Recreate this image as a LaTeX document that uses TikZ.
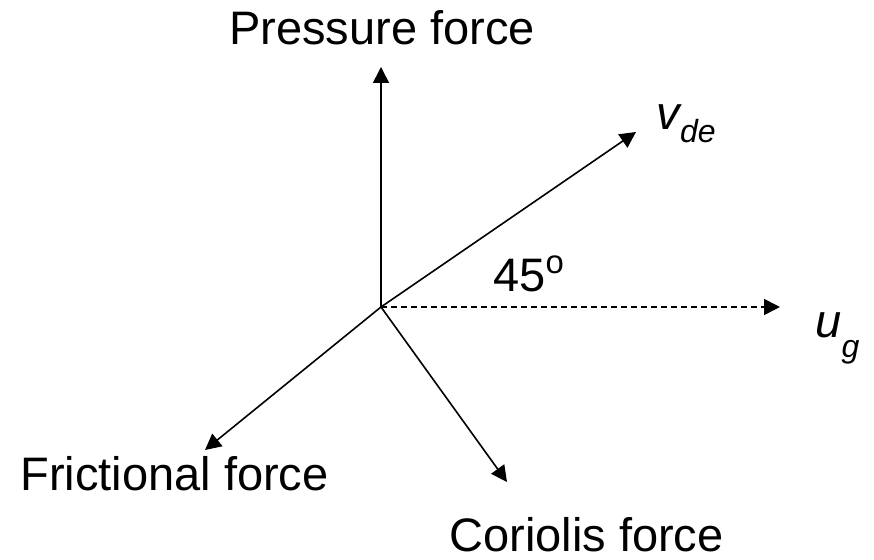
\documentclass[tikz,border=0pt]{standalone}
\usepackage{fontspec}
\setmainfont{Liberation Sans}
\usetikzlibrary{arrows.meta}
\begin{document}
\begin{tikzpicture}[x=0.5pt, y=-0.5pt,
    force/.style={-{Triangle[length=8pt, width=8pt]}, line width=0.8pt},
    lbl/.style={font=\fontsize{23.5}{28}\selectfont, inner sep=0pt}]
    \useasboundingbox (0,0) rectangle (874,560);
    \coordinate (O) at (381,307);
    \coordinate (pTip) at (381,67);
    \coordinate (vTip) at (636,132);
    \coordinate (uTip) at (780,307);
    \coordinate (fTip) at (205,450);
    \coordinate (cTip) at (507,482);
    \draw[force] (O) -- (pTip);
    \draw[force] (O) -- (vTip);
    \draw[force, dash pattern=on 3pt off 2pt] (O) -- (uTip);
    \draw[force] (O) -- (fTip);
    \draw[force] (O) -- (cTip);
    \node[lbl, anchor=base] (pLabel) at (382,45) {Pressure force};
    \node[lbl, anchor=base west] (vLabel) at (656,130)
        {\textit{v}\kern-1pt\raisebox{-0.26em}{\fontsize{16}{19}\selectfont\textit{de}}};
    \node[lbl, anchor=base west] (angLabel) at (493,292) {45\textsuperscript{o}};
    \node[lbl, anchor=base west] (uLabel) at (815,338)
        {\textit{u}\raisebox{-0.42em}{\fontsize{16}{19}\selectfont\textit{g}}};
    \node[lbl, anchor=base west] (fLabel) at (20,491) {Frictional force};
    \node[lbl, anchor=base west] (cLabel) at (449,552) {Coriolis force};
\end{tikzpicture}
\end{document}
